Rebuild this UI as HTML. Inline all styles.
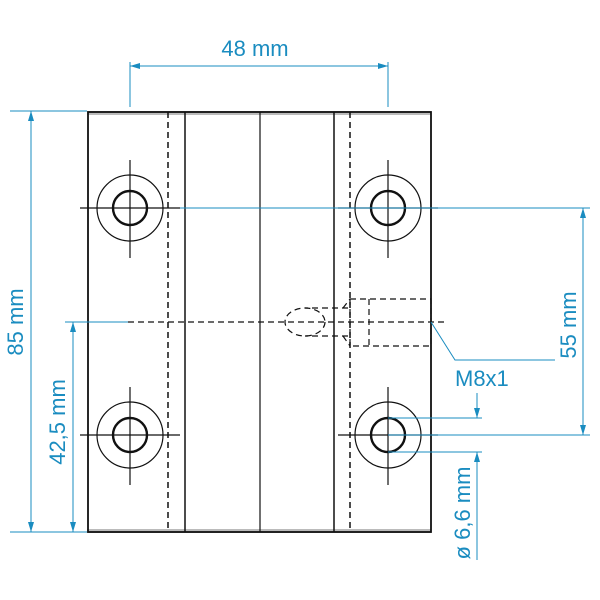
<!DOCTYPE html>
<html><head><style>body{margin:0;background:#fff}svg{display:block}</style></head><body>
<svg width="600" height="600" viewBox="0 0 600 600" xmlns="http://www.w3.org/2000/svg" font-family="Liberation Sans, sans-serif">
<defs>
<marker id="a" viewBox="0 0 10 6" refX="10" refY="3" markerWidth="10" markerHeight="6" orient="auto-start-reverse" markerUnits="userSpaceOnUse"><path d="M0,0 L10,3 L0,6 z" fill="#1a8cc0"/></marker>
</defs>
<rect x="87" y="111" width="344" height="4" fill="#bbb"/>
<rect x="87" y="529" width="344" height="4" fill="#bbb"/>
<g stroke="#111" fill="none">
<rect x="88" y="112" width="343" height="420" stroke-width="1.8"/>
<line x1="185" y1="112" x2="185" y2="532" stroke-width="1.5"/>
<line x1="260" y1="112" x2="260" y2="532" stroke-width="1.2"/>
<line x1="334" y1="112" x2="334" y2="532" stroke-width="1.5"/>
<line x1="168" y1="112" x2="168" y2="532" stroke-width="1.5" stroke-dasharray="6,4"/>
<line x1="350" y1="112" x2="350" y2="532" stroke-width="1.5" stroke-dasharray="6,4"/>
</g>
<g stroke="#111" fill="none" stroke-width="1.2">
<g id="h">
<circle cx="130" cy="208" r="33"/>
<circle cx="130" cy="208" r="17" stroke-width="2.4"/>
<line x1="130" y1="160" x2="130" y2="258"/>
<line x1="80" y1="208" x2="180" y2="208"/>
</g>
<use href="#h" x="258"/>
<use href="#h" y="227"/>
<use href="#h" x="258" y="227"/>
</g>
<g stroke="#111" fill="none" stroke-width="1.2" stroke-dasharray="6,4">
<line x1="128" y1="322" x2="445" y2="322"/>
<rect x="350" y="299" width="81" height="47"/>
<line x1="369" y1="299" x2="369" y2="346"/>
<path d="M348,308 L305,308 M348,336 L305,336"/>
<ellipse cx="305" cy="322" rx="20" ry="14"/>
<path d="M343,308 L350,299 M343,336 L350,346"/>
</g>
<g stroke="#1a8cc0" fill="none" stroke-width="1">
<line x1="130" y1="62" x2="130" y2="107"/>
<line x1="388" y1="62" x2="388" y2="107"/>
<line x1="130" y1="66" x2="388" y2="66" marker-start="url(#a)" marker-end="url(#a)"/>
<line x1="10" y1="111" x2="87" y2="111"/>
<line x1="10" y1="532" x2="87" y2="532"/>
<line x1="31" y1="111" x2="31" y2="532" marker-start="url(#a)" marker-end="url(#a)"/>
<line x1="65" y1="322" x2="128" y2="322"/>
<line x1="73" y1="322" x2="73" y2="532" marker-start="url(#a)" marker-end="url(#a)"/>
<line x1="180" y1="208" x2="590" y2="208"/>
<line x1="388" y1="435" x2="590" y2="435"/>
<line x1="583" y1="208" x2="583" y2="435" marker-start="url(#a)" marker-end="url(#a)"/>
<polyline points="431,322 455,360 555,360"/>
<line x1="388" y1="418" x2="482" y2="418"/>
<line x1="388" y1="452" x2="482" y2="452"/>
<line x1="477" y1="393" x2="477" y2="418" marker-end="url(#a)"/>
<line x1="477" y1="560" x2="477" y2="452" marker-end="url(#a)"/>
</g>
<g fill="#1a8cc0" font-size="22">
<text x="255" y="56" text-anchor="middle">48 mm</text>
<text transform="translate(23,322) rotate(-90)" text-anchor="middle">85 mm</text>
<text transform="translate(65,422) rotate(-90)" text-anchor="middle">42,5 mm</text>
<text transform="translate(576,325) rotate(-90)" text-anchor="middle">55 mm</text>
<text x="455" y="386">M8x1</text>
<text transform="translate(470,513) rotate(-90)" text-anchor="middle">ø 6,6 mm</text>
</g>
</svg>
</body></html>
